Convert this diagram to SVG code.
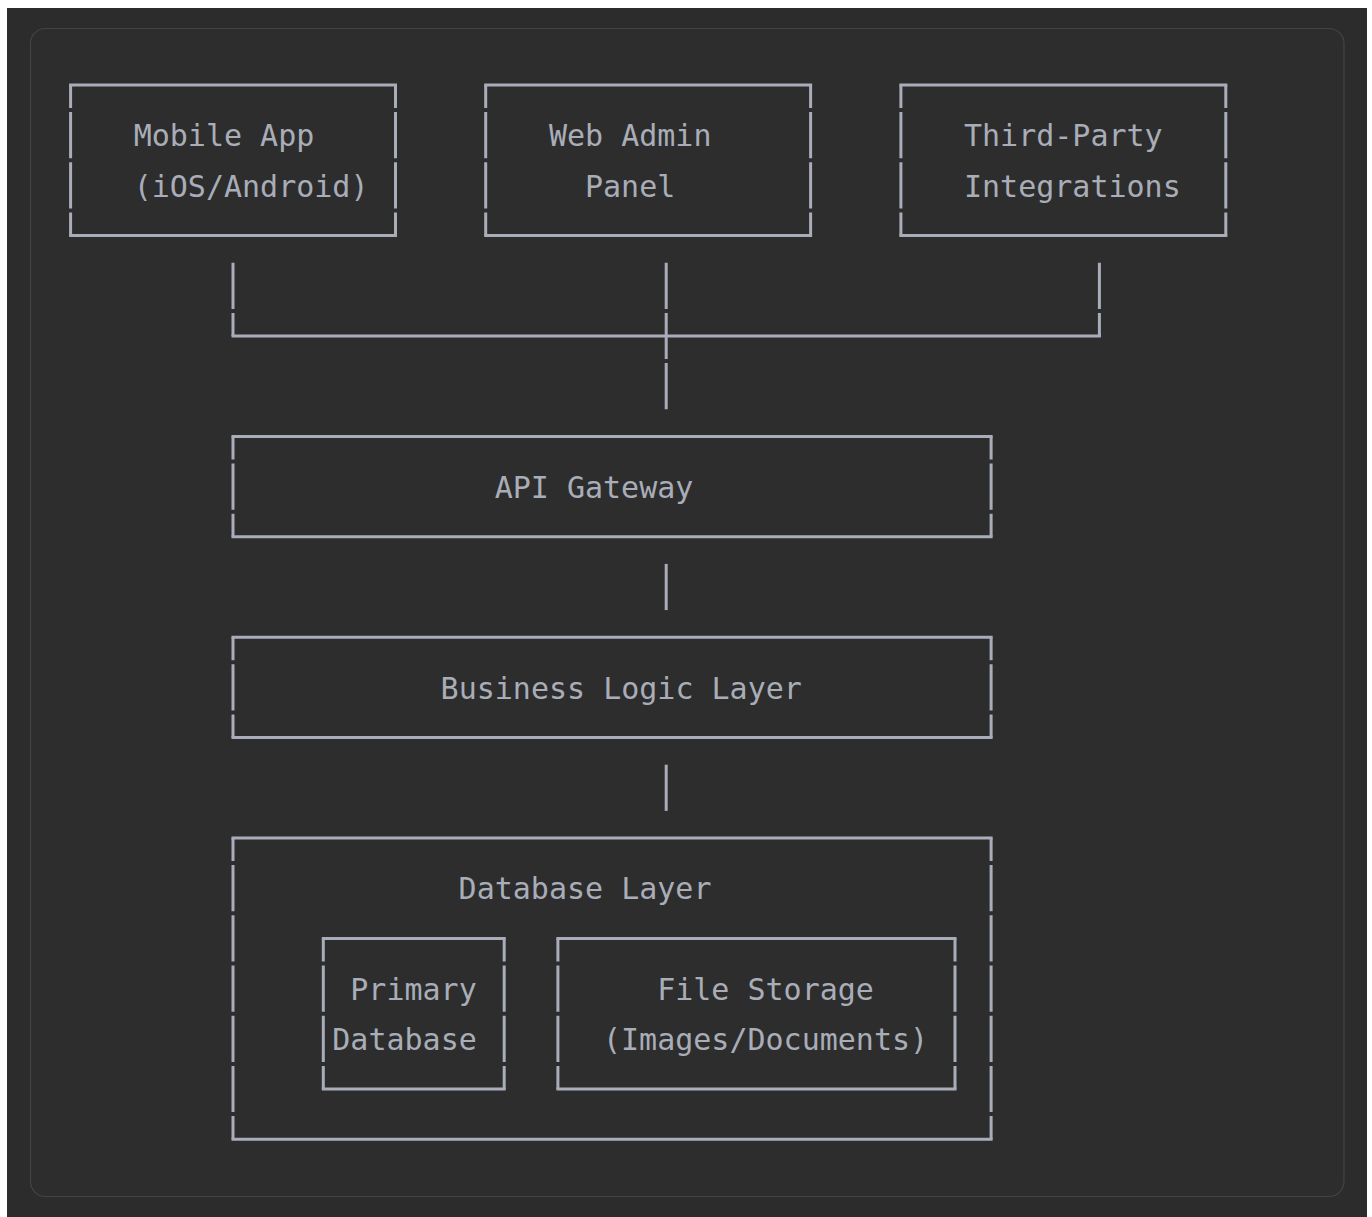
<svg xmlns="http://www.w3.org/2000/svg" width="1372" height="1217" viewBox="0 0 1372 1217">
<style>
.h{stroke:#a9adb9;stroke-width:3;stroke-linecap:square;fill:none}
.v{stroke:#a9adb9;stroke-width:3;fill:none;stroke-dasharray:46.2 4;stroke-dashoffset:23.1}
.c{stroke:#a9adb9;stroke-width:3;fill:none;stroke-dasharray:46.2 4}
.ch{stroke:#a9adb9;stroke-width:3;fill:none}
text{font-family:"DejaVu Sans Mono","Liberation Mono",monospace;font-size:30px;fill:#a9adb8}
</style>
<rect x="0" y="0" width="1372" height="1217" fill="#ffffff"/>
<rect x="7" y="8" width="1360" height="1209" fill="#2c2c2c"/>
<rect x="30.5" y="28.5" width="1313.5" height="1168" rx="15" fill="#2d2d2d" stroke="#444444" stroke-width="1.2"/>

<g id="mobile-app">
<path class="h" d="M70.6 85 H395.5 M70.6 235.6 H395.5"/>
<line class="v" x1="70.6" y1="85" x2="70.6" y2="235.6"/>
<line class="v" x1="395.5" y1="85" x2="395.5" y2="235.6"/>
<text x="133.7" y="146.4">Mobile App</text>
<text x="133.7" y="196.6">(iOS/Android)</text>
</g>

<g id="web-admin">
<path class="h" d="M485.7 85 H810.6 M485.7 235.6 H810.6"/>
<line class="v" x1="485.7" y1="85" x2="485.7" y2="235.6"/>
<line class="v" x1="810.6" y1="85" x2="810.6" y2="235.6"/>
<text x="548.9" y="146.4">Web Admin</text>
<text x="585" y="196.6">Panel</text>
</g>

<g id="third-party">
<path class="h" d="M900.9 85 H1225.8 M900.9 235.6 H1225.8"/>
<line class="v" x1="900.9" y1="85" x2="900.9" y2="235.6"/>
<line class="v" x1="1225.8" y1="85" x2="1225.8" y2="235.6"/>
<text x="964" y="146.4">Third-Party</text>
<text x="964" y="196.6">Integrations</text>
</g>

<g id="connectors">
<line class="c" x1="233" y1="262.7" x2="233" y2="336"/>
<line class="c" x1="666.2" y1="262.7" x2="666.2" y2="409.3"/>
<line class="c" x1="1099.4" y1="262.7" x2="1099.4" y2="336"/>
<line class="ch" x1="231.5" y1="336" x2="1100.9" y2="336"/>
<line class="c" x1="666.2" y1="563.9" x2="666.2" y2="610.1"/>
<line class="c" x1="666.2" y1="764.7" x2="666.2" y2="810.9"/>
</g>

<g id="api-gateway">
<path class="h" d="M233 436.4 H991.1 M233 536.8 H991.1"/>
<line class="v" x1="233" y1="436.4" x2="233" y2="536.8"/>
<line class="v" x1="991.1" y1="436.4" x2="991.1" y2="536.8"/>
<text x="494.7" y="497.8">API Gateway</text>
</g>

<g id="business-logic">
<path class="h" d="M233 637.2 H991.1 M233 737.6 H991.1"/>
<line class="v" x1="233" y1="637.2" x2="233" y2="737.6"/>
<line class="v" x1="991.1" y1="637.2" x2="991.1" y2="737.6"/>
<text x="440.6" y="698.6">Business Logic Layer</text>
</g>

<g id="database-layer">
<path class="h" d="M233 838 H991.1 M233 1139.2 H991.1"/>
<line class="v" x1="233" y1="838" x2="233" y2="1139.2"/>
<line class="v" x1="991.1" y1="838" x2="991.1" y2="1139.2"/>
<text x="458.6" y="899.4">Database Layer</text>
</g>

<g id="primary-database">
<path class="h" d="M323.3 938.4 H504.2 M323.3 1089 H504.2"/>
<line class="v" x1="323.3" y1="938.4" x2="323.3" y2="1089"/>
<line class="v" x1="504.2" y1="938.4" x2="504.2" y2="1089"/>
<text x="350.3" y="999.8">Primary</text>
<text x="332.3" y="1050">Database</text>
</g>

<g id="file-storage">
<path class="h" d="M557.9 938.4 H955 M557.9 1089 H955"/>
<line class="v" x1="557.9" y1="938.4" x2="557.9" y2="1089"/>
<line class="v" x1="955" y1="938.4" x2="955" y2="1089"/>
<text x="657.2" y="999.8">File Storage</text>
<text x="603" y="1050">(Images/Documents)</text>
</g>
</svg>
